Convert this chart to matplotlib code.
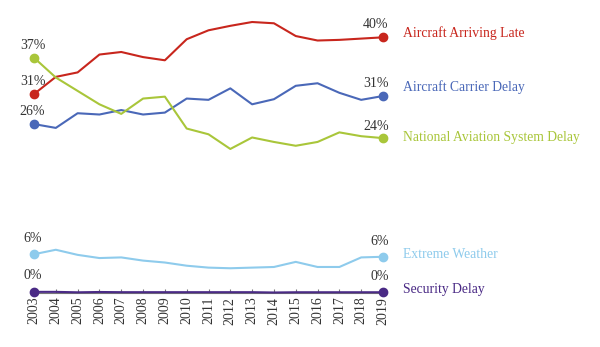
import matplotlib.pyplot as plt
import numpy as np

plt.rcParams['font.family'] = ['Liberation Serif', 'DejaVu Serif']

years = list(range(2003, 2020))

late_aircraft = [31.1, 33.8, 34.5, 37.3, 37.7, 36.9, 36.4, 39.7, 41.1, 41.8,
                 42.4, 42.2, 40.2, 39.5, 39.6, 39.8, 40.0]
carrier = [26.4, 25.8, 28.1, 27.9, 28.6, 27.9, 28.2, 30.4, 30.2, 32.0,
           29.5, 30.3, 32.4, 32.8, 31.3, 30.2, 30.8]
nas = [36.8, 33.7, 31.6, 29.5, 28.0, 30.4, 30.7, 25.7, 24.8, 22.5,
       24.3, 23.6, 23.0, 23.6, 25.1, 24.5, 24.2]
weather = [6.0, 6.7, 5.9, 5.4, 5.5, 5.0, 4.7, 4.2, 3.9, 3.8,
           3.9, 4.0, 4.8, 4.0, 4.0, 5.5, 5.6]
security = [0.10, 0.10, 0.03, 0.08, 0.05, 0.05, 0.05, 0.05, 0.05, 0.05,
            0.05, 0.00, 0.04, 0.04, 0.04, 0.04, 0.04]

names = ['Aircraft Arriving Late', 'Aircraft Carrier Delay',
         'National Aviation System Delay', 'Extreme Weather', 'Security Delay']
colors = ['#c8261d', '#4a68b8', '#a9c63a', '#8ecbec', '#4a2a85']
series = [late_aircraft, carrier, nas, weather, security]

fig = plt.figure(figsize=(6.0, 3.47), dpi=100)
ax = fig.add_axes([34 / 600, (347 - 292.5) / 347, (383 - 34) / 600, (292.5 - 37) / 347])

for vals, col in zip(series, colors):
    ax.plot(years, vals, color=col, lw=1.5, zorder=3, clip_on=False)
    ax.plot([years[0], years[-1]], [vals[0], vals[-1]], 'o', color=col,
            ms=6, zorder=4, clip_on=False)

ax.set_xlim(2003, 2019)
ax.set_ylim(0, 40.05)

# end point labels, the low pair sits a little higher
lifts = [9, 9, 8.5, 11, 11.5]
for vals, lift in zip(series, lifts):
    ax.annotate(f'{vals[0]:.0f}%', (years[0], vals[0]), xytext=(-1, lift),
                textcoords='offset points', ha='center', va='center',
                fontsize=10, color='#333333')
    ax.annotate(f'{vals[-1]:.0f}%', (years[-1], vals[-1]), xytext=(4, lift),
                textcoords='offset points', ha='right', va='center',
                fontsize=10, color='#333333')

# series names on the right
name_y = [33.3, 87.3, 137.7, 255, 290]
for name, col, py in zip(names, colors, name_y):
    fig.text(403 / 600, 1 - py / 347, name, color=col, fontsize=9.8,
             ha='left', va='center')

for s in ['top', 'right', 'left']:
    ax.spines[s].set_visible(False)
ax.spines['bottom'].set_color('#777777')
ax.spines['bottom'].set_linewidth(0.8)
ax.set_yticks([])
ax.set_xticks(years)
ax.set_xticklabels([str(y) for y in years], rotation=90, fontsize=10,
                   color='#333333')
ax.tick_params(axis='x', direction='in', length=3, width=0.8,
               color='#777777', pad=3)

fig.savefig('out.png', dpi=100)
